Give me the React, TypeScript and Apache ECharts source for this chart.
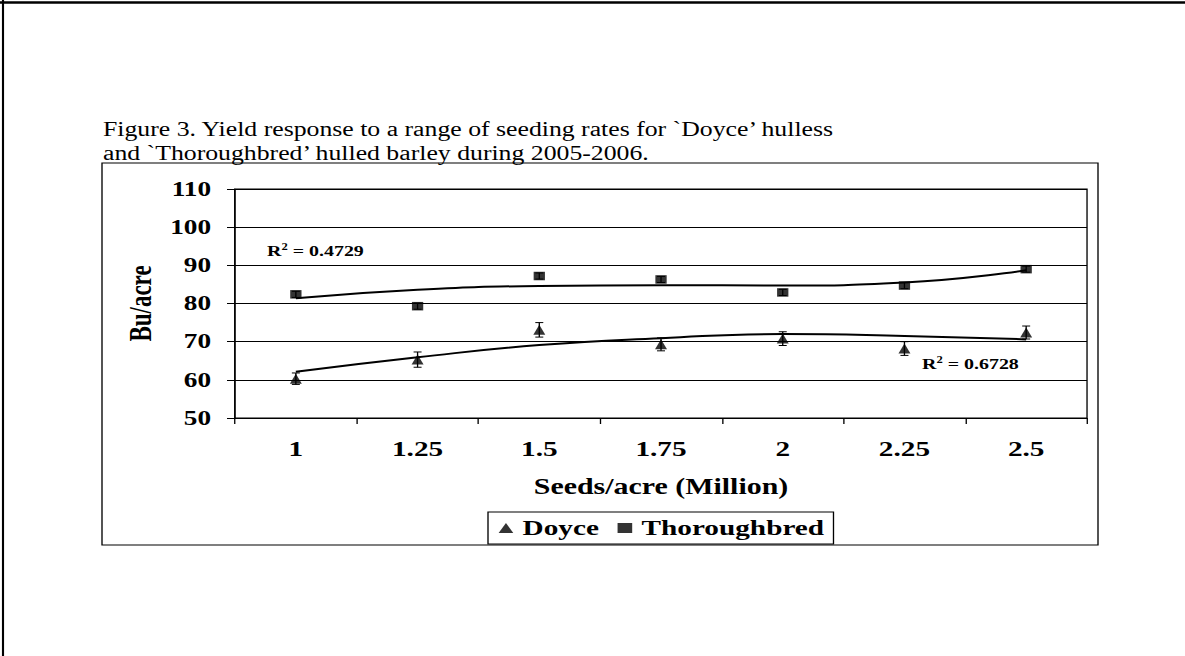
import React, { useEffect, useRef } from "react";
import * as echarts from "echarts";

const seedRates = ["1", "1.25", "1.5", "1.75", "2", "2.25", "2.5"];
const doyceYield = [60.3, 65.3, 73.1, 69.3, 70.8, 68.2, 72.4];
const doyceErr = [1.5, 2.0, 1.9, 1.7, 1.8, 1.8, 1.7];
const thoroughbredYield = [82.4, 79.3, 87.2, 86.3, 82.9, 84.7, 89.0];
const thoroughbredErr = [0.8, 0.8, 0.8, 0.8, 0.8, 0.8, 0.8];
const doyceTrend = [62.1, 65.9, 69.1, 70.9, 72.0, 71.5, 70.6];
const thoroughbredTrend = [81.4, 83.6, 84.6, 84.8, 84.7, 85.5, 88.7];
const yMin = 50;
const yMax = 110;
const yStep = 10;
const titleLines = [
  "Figure 3. Yield response to a range of seeding rates for `Doyce\u2019 hulless",
  "and `Thoroughbred\u2019 hulled barley during 2005-2006.",
];
const r2Thoroughbred = "0.4729";
const r2Doyce = "0.6728";

const S = 1.33; // horizontal stretch of the reference
const W = 1185 / S;
const H = 656;
const FONT = "'Liberation Serif', 'Times New Roman', serif";
const ax = (x: number) => x / S;

export default function App() {
  const ref = useRef<HTMLDivElement>(null);
  useEffect(() => {
    if (!ref.current) return;
    const chart = echarts.init(ref.current, null, { renderer: "svg" });

    const errRender = () => (params: any, api: any) => {
      const i = api.value(0);
      const v = api.value(1);
      const e = api.value(2);
      const top = api.coord([i, v + e]);
      const bot = api.coord([i, v - e]);
      const cap = 3;
      const st = { stroke: "#000", lineWidth: 1 };
      return {
        type: "group",
        children: [
          { type: "line", shape: { x1: top[0], y1: top[1], x2: bot[0], y2: bot[1] }, style: st },
          { type: "line", shape: { x1: top[0] - cap, y1: top[1], x2: top[0] + cap, y2: top[1] }, style: st },
          { type: "line", shape: { x1: bot[0] - cap, y1: bot[1], x2: bot[0] + cap, y2: bot[1] }, style: st },
        ],
      };
    };

    const r2Rich = {
      b: { fontFamily: FONT, fontWeight: "bold", fontSize: 15, fill: "#000" },
      s: { fontFamily: FONT, fontWeight: "bold", fontSize: 9.5, fill: "#000", verticalAlign: "top", padding: [0, 0, 8, 0] },
    };

    const option: any = {
      animation: false,
      backgroundColor: "#fff",
      textStyle: { fontFamily: FONT, color: "#000" },
      grid: {
        left: ax(235),
        right: W - ax(1087),
        top: 189,
        bottom: H - 418,
        show: true,
        borderColor: "#000",
        borderWidth: 1,
        backgroundColor: "transparent",
      },
      legend: {
        left: ax(488),
        top: 512,
        orient: "horizontal",
        padding: [5, 7, 5, 8],
        itemGap: 14,
        itemWidth: 11,
        itemHeight: 10,
        borderColor: "#000",
        borderWidth: 1,
        backgroundColor: "#fff",
        textStyle: { fontFamily: FONT, fontWeight: "bold", fontSize: 22, color: "#000", padding: [0, 0, 0, 2] },
        data: [
          { name: "Doyce", icon: "triangle" },
          { name: "Thoroughbred", icon: "rect" },
        ],
      },
      xAxis: {
        type: "category",
        data: seedRates,
        boundaryGap: true,
        name: "Seeds/acre (Million)",
        nameLocation: "middle",
        nameGap: 57,
        nameTextStyle: { fontFamily: FONT, fontWeight: "bold", fontSize: 22.5, color: "#000" },
        axisLine: { show: true, lineStyle: { color: "#000", width: 1 } },
        axisTick: { show: true, length: 6, lineStyle: { color: "#000" } },
        axisLabel: { margin: 20, fontFamily: FONT, fontWeight: "bold", fontSize: 22, color: "#000" },
        splitLine: { show: false },
      },
      yAxis: {
        type: "value",
        min: yMin,
        max: yMax,
        interval: yStep,
        name: "Bu/acre",
        nameLocation: "middle",
        nameGap: 58,
        nameRotate: 90,
        nameTextStyle: { fontFamily: FONT, fontWeight: "bold", fontSize: 23, color: "#000" },
        axisLine: { show: true, lineStyle: { color: "#000", width: 1 } },
        axisTick: { show: true, length: 6, lineStyle: { color: "#000" } },
        axisLabel: { margin: 18, fontFamily: FONT, fontWeight: "bold", fontSize: 20.5, color: "#000" },
        splitLine: { show: true, lineStyle: { color: "#000", width: 1 } },
      },
      graphic: [
        { type: "line", silent: true, shape: { x1: 0, y1: 2.5, x2: W, y2: 2.5 }, style: { stroke: "#000", lineWidth: 2.5 } },
        { type: "line", silent: true, shape: { x1: ax(3), y1: 0, x2: ax(3), y2: H }, style: { stroke: "#000", lineWidth: 1.6 } },
        {
          type: "rect",
          silent: true,
          z: -10,
          shape: { x: ax(102), y: 163, width: ax(1098) - ax(102), height: 545 - 163 },
          style: { fill: "transparent", stroke: "#000", lineWidth: 1 },
        },
        {
          type: "text",
          silent: true,
          x: ax(103),
          y: 117,
          scaleX: 0.945,
          style: {
            text: titleLines.join("\n"),
            font: `20.5px ${FONT}`,
            fill: "#000",
            lineHeight: 24,
          },
        },
        {
          type: "text",
          silent: true,
          x: ax(267),
          y: 251,
          style: { text: `{b|R}{s|2}{b| = ${r2Thoroughbred}}`, verticalAlign: "middle", rich: r2Rich },
        },
        {
          type: "text",
          silent: true,
          x: ax(922),
          y: 364,
          style: { text: `{b|R}{s|2}{b| = ${r2Doyce}}`, verticalAlign: "middle", rich: r2Rich },
        },
      ],
      series: [
        {
          name: "Doyce err",
          type: "custom",
          renderItem: errRender(),
          data: doyceYield.map((v, i) => [i, v, doyceErr[i]]),
          z: 1,
          silent: true,
        },
        {
          name: "Thoroughbred err",
          type: "custom",
          renderItem: errRender(),
          data: thoroughbredYield.map((v, i) => [i, v, thoroughbredErr[i]]),
          z: 1,
          silent: true,
        },
        {
          name: "Doyce trend",
          type: "line",
          data: doyceTrend,
          smooth: true,
          symbol: "none",
          lineStyle: { color: "#000", width: 2 },
          z: 3,
          silent: true,
        },
        {
          name: "Thoroughbred trend",
          type: "line",
          data: thoroughbredTrend,
          smooth: true,
          symbol: "none",
          lineStyle: { color: "#000", width: 2 },
          z: 3,
          silent: true,
        },
        {
          name: "Doyce",
          type: "scatter",
          data: doyceYield,
          symbol: "triangle",
          symbolSize: [9, 10],
          itemStyle: { color: "#000" },
          z: 4,
        },
        {
          name: "Thoroughbred",
          type: "scatter",
          data: thoroughbredYield,
          symbol: "rect",
          symbolSize: [8.5, 8.5],
          itemStyle: { color: "#000" },
          z: 4,
        },
      ],
    };
    chart.setOption(option);
    return () => chart.dispose();
  }, []);

  return (
    <div
      ref={ref}
      style={{
        position: "absolute",
        left: 0,
        top: 0,
        width: W,
        height: H,
        transform: `scaleX(${S})`,
        transformOrigin: "0 0",
        background: "#fff",
      }}
    />
  );
}
